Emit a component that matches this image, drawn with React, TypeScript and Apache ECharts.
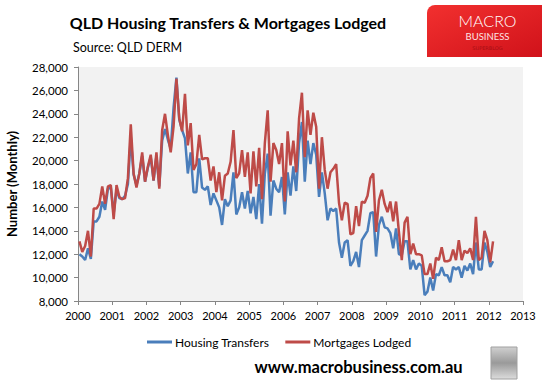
import React, { useEffect, useRef } from "react";
import * as echarts from "echarts";

// Monthly data, Jan 2000 .. Feb 2012
const START_YEAR = 2000;

const housingTransfers = [
  12000, 11800, 11500, 12500, 11600, 14800, 14800, 15200, 16500, 15800,
  17600, 17700, 15500, 17500, 16800, 16700, 17000, 18000, 22000, 18800,
  17900, 18900, 20400, 18200, 19400, 20300, 18300, 20400, 17800, 21700,
  22700, 21800, 21000, 24500, 27100, 23500, 22600, 21900, 18900, 20700,
  17300, 17300, 20200, 17700, 17500, 17800, 16200, 17200, 16600, 16000,
  14500, 16700, 16100, 16600, 19000, 15400, 16000, 17300, 15900, 17400,
  15500, 16900, 15000, 18000, 14600, 18900, 20600, 15300, 18300, 17600,
  17300, 18600, 15400, 19000, 17000, 19500, 17400, 21500, 23300, 18200,
  21700, 19700, 21500, 20500, 16900, 19000, 17200, 14900, 15900, 15700,
  15900, 13000, 11700, 13000, 13200, 11000, 11400, 12200, 10900, 13200,
  13600, 14000, 15500, 15600, 11800, 14500, 15200, 14300, 14200, 13800,
  12500, 14200, 12000, 11900, 13100, 13100, 10700, 11500, 10700, 11200,
  11000, 8500, 8800, 10000, 8900, 10300, 10200, 10900, 10200, 10200,
  9600, 10900, 10700, 10900, 10000, 11000, 10600, 11200, 10300, 13000,
  10700, 10700, 13000, 12200, 10900, 11400,
];

const mortgagesLodged = [
  13100, 12200, 12700, 14000, 11800, 15900, 15900, 16300, 17800, 16300,
  17800, 17900, 15000, 17900, 16900, 16700, 16800, 18500, 23100, 18900,
  17700, 18900, 20700, 18200, 19500, 20500, 18300, 20700, 17600, 22600,
  24000, 22200, 20700, 22900, 27000, 23600, 22500, 25700, 21300, 23200,
  19200, 19700, 22200, 20100, 20200, 20200, 18300, 19500, 17300, 19000,
  16600, 18700, 18900, 19900, 22600, 18500, 18900, 20900, 18600, 20700,
  17200, 20800, 17800, 21100, 16700, 21500, 24300, 18200, 21500, 20900,
  19700, 21500, 16500, 22500, 19600, 21700, 19000, 23600, 25800, 20300,
  24300, 22200, 24100, 22900, 17600, 22000, 19200, 17600, 19000, 19300,
  19700, 16400, 14900, 16400, 16300, 13700, 13800, 16100, 14400, 16500,
  16400, 17000, 18500, 18900, 13900, 16600, 17500, 16300, 15600, 16500,
  14800, 16500, 13900, 11500, 14700, 15200, 12000, 12900, 12000, 12000,
  11900, 10300, 10300, 11200, 9900, 11700, 11500, 12600, 11400, 11400,
  11500, 12400, 11500, 13200, 11500, 12300, 12100, 12500, 11500, 15200,
  11500, 11700, 14000, 13200, 11300, 13100,
];

const seriesNames = ["Housing Transfers", "Mortgages Lodged"];
const yMin = 8000;
const yMax = 28000;
const yStep = 2000;
const xMinYear = 2000;
const xMaxYear = 2013;

const titleText = "QLD Housing Transfers & Mortgages Lodged";
const sourceText = "Source: QLD DERM";
const yAxisTitle = "Number (Monthly)";
const footerText = "www.macrobusiness.com.au";

function toPoints(vals: number[]) {
  return vals.map((v, i) => [START_YEAR + (i + 0.5) / 12, v]);
}

const FONT = "Lato, 'Open Sans', sans-serif";

export default function App() {
  const ref = useRef<HTMLDivElement>(null);

  useEffect(() => {
    if (!ref.current) return;
    const chart = echarts.init(ref.current, null, { renderer: "svg" });
    chart.setOption({
      animation: false,
      backgroundColor: "#ffffff",
      grid: {
        left: 78,
        right: 24,
        top: 67,
        bottom: 86,
        show: true,
        backgroundColor: "#f2f2f2",
        borderWidth: 0,
      },
      legend: {
        left: 147,
        top: 336,
        padding: 0,
        itemGap: 16,
        itemWidth: 25,
        itemHeight: 3,
        icon: "rect",
        data: seriesNames,
        textStyle: { fontFamily: FONT, fontSize: 12, color: "#000", padding: [0, 0, 0, -2] },
      },
      xAxis: {
        type: "value",
        min: xMinYear,
        max: xMaxYear,
        interval: 1,
        axisLine: { show: true, lineStyle: { color: "#868686", width: 1 } },
        axisTick: { show: true, inside: false, length: 4, lineStyle: { color: "#868686" } },
        splitLine: { show: false },
        axisLabel: {
          formatter: (v: number) => String(v),
          fontFamily: FONT,
          fontSize: 11,
          color: "#000",
          margin: 9,
        },
      },
      yAxis: {
        type: "value",
        min: yMin,
        max: yMax,
        interval: yStep,
        axisLine: { show: true, lineStyle: { color: "#868686", width: 1 } },
        axisTick: { show: true, inside: false, length: 4, lineStyle: { color: "#868686" } },
        splitLine: { show: false },
        axisLabel: {
          formatter: (v: number) => v.toLocaleString("en-US"),
          fontFamily: FONT,
          fontSize: 11.5,
          color: "#000",
          margin: 10,
        },
      },
      series: [
        {
          name: seriesNames[0],
          type: "line",
          data: toPoints(housingTransfers),
          symbol: "none",
          showSymbol: false,
          lineStyle: { color: "#4a7ebb", width: 2.5 },
          itemStyle: { color: "#4a7ebb" },
        },
        {
          name: seriesNames[1],
          type: "line",
          data: toPoints(mortgagesLodged),
          symbol: "none",
          showSymbol: false,
          lineStyle: { color: "#be4b48", width: 2.5 },
          itemStyle: { color: "#be4b48" },
        },
      ],
      graphic: [
        {
          type: "text",
          x: 228,
          y: 22,
          style: {
            text: titleText,
            font: `bold 16px ${FONT}`,
            fill: "#000",
            align: "center",
            verticalAlign: "middle",
          },
        },
        {
          type: "text",
          x: 73,
          y: 47,
          style: {
            text: sourceText,
            font: `12.5px ${FONT}`,
            fill: "#000",
            align: "left",
            verticalAlign: "middle",
          },
        },
        {
          type: "text",
          x: 12,
          y: 184,
          rotation: Math.PI / 2,
          style: {
            text: yAxisTitle,
            font: `bold 13px ${FONT}`,
            fill: "#000",
            align: "center",
            verticalAlign: "middle",
          },
        },
        {
          type: "rect",
          shape: { x: 427, y: 5, width: 115, height: 52, r: [8, 0, 0, 0] },
          style: {
            fill: new echarts.graphic.LinearGradient(0, 0, 1, 1, [
              { offset: 0, color: "#f2302f" },
              { offset: 1, color: "#d0121a" },
            ]),
          },
        },
        {
          type: "text",
          x: 487.5,
          y: 20.5,
          style: {
            text: "MACRO",
            font: "300 16px Lato, sans-serif",
            fill: "#ffffff",
            align: "center",
            verticalAlign: "middle",
          },
        },
        {
          type: "text",
          x: 487.5,
          y: 36.5,
          style: {
            text: "BUSINESS",
            font: "9.5px Lato, sans-serif",
            fill: "#fde4e4",
            align: "center",
            verticalAlign: "middle",
          },
        },
        {
          type: "text",
          x: 487.5,
          y: 47.5,
          style: {
            text: "SUPERBLOG",
            font: "5px 'DejaVu Sans', sans-serif",
            fill: "#a80e14",
            align: "center",
            verticalAlign: "middle",
          },
        },
        {
          type: "text",
          x: 358.5,
          y: 367,
          style: {
            text: footerText,
            font: `bold 16.5px ${FONT}`,
            fill: "#000",
            align: "center",
            verticalAlign: "middle",
          },
        },
        {
          type: "rect",
          shape: { x: 491, y: 347, width: 26, height: 32 },
          style: {
            fill: new echarts.graphic.LinearGradient(0, 0, 0, 1, [
              { offset: 0, color: "#d0d0d0" },
              { offset: 0.5, color: "#9a9a9a" },
              { offset: 1, color: "#dcdcdc" },
            ]),
            stroke: "#a0a0a0",
            lineWidth: 1,
          },
        },
      ],
    });
    return () => chart.dispose();
  }, []);

  return <div ref={ref} style={{ width: 547, height: 387, position: "absolute", left: 0, top: 0 }} />;
}
